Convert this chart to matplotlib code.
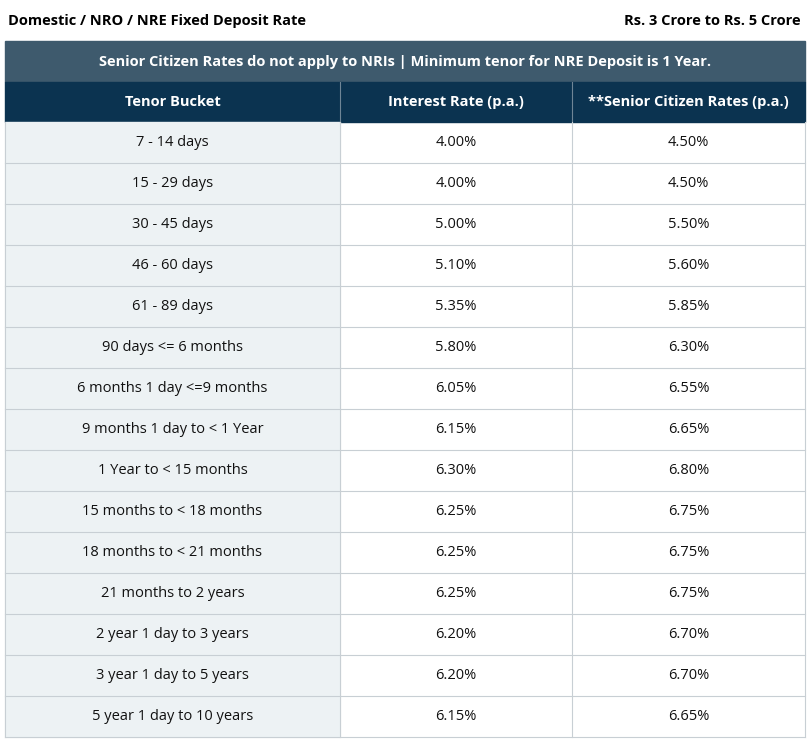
import matplotlib.pyplot as plt
from matplotlib.patches import Rectangle

title_left = "Domestic / NRO / NRE Fixed Deposit Rate"
title_right = "Rs. 3 Crore to Rs. 5 Crore"
banner = "Senior Citizen Rates do not apply to NRIs | Minimum tenor for NRE Deposit is 1 Year."
headers = ["Tenor Bucket", "Interest Rate (p.a.)", "**Senior Citizen Rates (p.a.)"]
tenors = ["7 - 14 days", "15 - 29 days", "30 - 45 days", "46 - 60 days", "61 - 89 days",
          "90 days <= 6 months", "6 months 1 day <=9 months", "9 months 1 day to < 1 Year",
          "1 Year to < 15 months", "15 months to < 18 months", "18 months to < 21 months",
          "21 months to 2 years", "2 year 1 day to 3 years", "3 year 1 day to 5 years",
          "5 year 1 day to 10 years"]
rates = ["4.00%", "4.00%", "5.00%", "5.10%", "5.35%", "5.80%", "6.05%", "6.15%",
         "6.30%", "6.25%", "6.25%", "6.25%", "6.20%", "6.20%", "6.15%"]
senior = ["4.50%", "4.50%", "5.50%", "5.60%", "5.85%", "6.30%", "6.55%", "6.65%",
          "6.80%", "6.75%", "6.75%", "6.75%", "6.70%", "6.70%", "6.65%"]

plt.rcParams["font.family"] = "Open Sans"
fig = plt.figure(figsize=(8.1, 7.48), dpi=100)
ax = fig.add_axes([0, 0, 1, 1])
ax.set_xlim(0, 810)
ax.set_ylim(748, 0)
ax.axis("off")

cols = [5, 340, 572, 805]
fs = 10.5
grid = "#c8cfd4"

ax.text(8, 21, title_left, fontsize=fs, fontweight="bold", va="center", ha="left")
ax.text(801, 21, title_right, fontsize=fs, fontweight="bold", va="center", ha="right")

# banner
ax.add_patch(Rectangle((cols[0], 41), cols[3] - cols[0], 41, color="#3e5a6d"))
ax.text((cols[0] + cols[3]) / 2, 61.5, banner, fontsize=fs, fontweight="bold",
        color="white", va="center", ha="center")

# header
ax.add_patch(Rectangle((cols[0], 82), cols[3] - cols[0], 40, color="#0b3350"))
for i, h in enumerate(headers):
    ax.text((cols[i] + cols[i + 1]) / 2, 102, h, fontsize=fs, fontweight="bold",
            color="white", va="center", ha="center")
ax.plot([cols[1], cols[1]], [82, 122], color="#6f8596", lw=0.8)
ax.plot([cols[2], cols[2]], [82, 122], color="#6f8596", lw=0.8)

rh = 41
top = 122
for r, (t, a, s) in enumerate(zip(tenors, rates, senior)):
    y = top + r * rh
    ax.add_patch(Rectangle((cols[0], y), cols[1] - cols[0], rh, color="#edf2f4"))
    for i, v in enumerate([t, a, s]):
        ax.text((cols[i] + cols[i + 1]) / 2, y + rh / 2, v, fontsize=fs,
                va="center", ha="center", color="#111111")
    ax.plot([cols[0], cols[3]], [y + rh, y + rh], color=grid, lw=0.8)

bottom = top + len(tenors) * rh
for x in cols:
    ax.plot([x, x], [top, bottom], color=grid, lw=0.8)

fig.savefig("out.png", dpi=100)
